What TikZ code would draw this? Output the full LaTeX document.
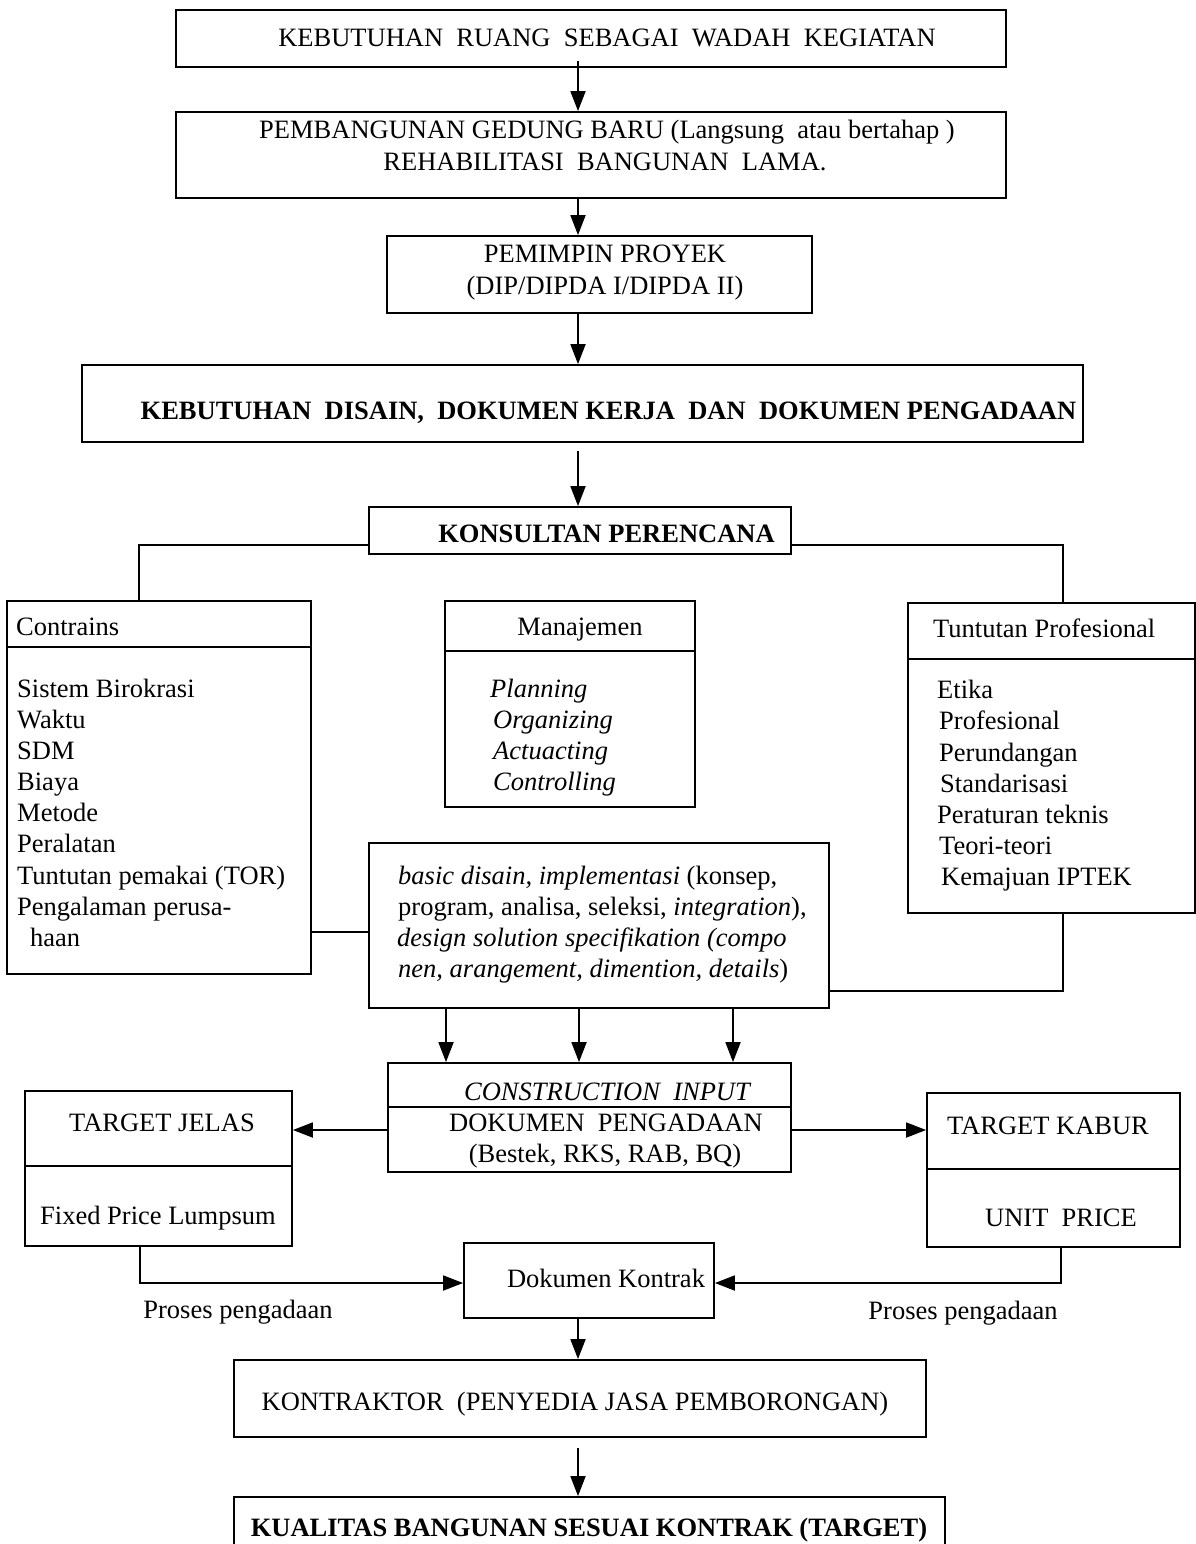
\documentclass[tikz,border=0pt]{standalone}
\usepackage{fontspec}
\setmainfont{Liberation Serif}
\usetikzlibrary{arrows.meta}
\begin{document}
\begin{tikzpicture}[x=1pt,y=-1pt,
  box/.style={draw, line width=1.8pt, rectangle, inner sep=0pt},
  lbl/.style={inner sep=0pt, anchor=base, font=\fontsize{26.5}{31}\selectfont},
  lblw/.style={lbl, anchor=base west},
  link/.style={line width=1.8pt},
  arr/.style={link, -{Triangle[length=20pt,width=15pt]}},
  rule/.style={line width=1.5pt}
  ]
\useasboundingbox (0,0) rectangle (1196,1544);
\fill[white] (0,0) rectangle (1196,1544);

% guide coordinates for the connectors
\coordinate (ax) at (578,0);
\coordinate (lx) at (139,0);
\coordinate (rx) at (1063,0);
\coordinate (hy) at (0,545);
\coordinate (cy) at (0,932);
\coordinate (ty) at (0,991);
\coordinate (xa) at (446,0);
\coordinate (xb) at (579,0);
\coordinate (xc) at (733,0);
\coordinate (my) at (0,1130);
\coordinate (py) at (0,1283);
\coordinate (lx2) at (140,0);
\coordinate (rx2) at (1061,0);

% main chain of boxes
\node[box, minimum width=830pt, minimum height=57pt] (b1) at (591,38.5) {};
\node[lbl] (t1) at (607,47) {KEBUTUHAN \ RUANG \ SEBAGAI \ WADAH \ KEGIATAN};

\node[box, minimum width=830pt, minimum height=86pt] (b2) at (591,155) {};
\node[lbl] (t2a) at (607,139) {PEMBANGUNAN GEDUNG BARU (Langsung \ atau bertahap )};
\node[lbl] (t2b) at (605,170) {REHABILITASI \ BANGUNAN \ LAMA.};

\node[box, minimum width=425pt, minimum height=77pt] (b3) at (599.5,274.5) {};
\node[lbl] (t3a) at (605,262) {PEMIMPIN PROYEK};
\node[lbl] (t3b) at (605,294) {(DIP/DIPDA I/DIPDA II)};

\node[box, minimum width=1001pt, minimum height=77pt] (b4) at (582.5,403.5) {};
\node[lbl, font=\fontsize{26.5}{31}\selectfont\bfseries] (t4) at (608.5,419) {KEBUTUHAN \ DISAIN, \ DOKUMEN KERJA \ DAN \ DOKUMEN PENGADAAN};

\node[box, minimum width=422pt, minimum height=47pt] (b5) at (580,530.5) {};
\node[lbl, font=\fontsize{26.5}{31}\selectfont\bfseries] (t5) at (606.5,542) {KONSULTAN PERENCANA};

% constraints box
\node[box, minimum width=304pt, minimum height=373pt] (con) at (159,787.5) {};
\draw[rule] ([yshift=-47pt]con.north west) -- ([yshift=-47pt]con.north east);
\node[lblw] (conh) at (16,635) {Contrains};
\node[lblw] (c1) at (17,697) {Sistem Birokrasi};
\node[lblw] (c2) at (17,728) {Waktu};
\node[lblw] (c3) at (17,759) {SDM};
\node[lblw] (c4) at (17,790) {Biaya};
\node[lblw] (c5) at (17,821) {Metode};
\node[lblw] (c6) at (17,852) {Peralatan};
\node[lblw] (c7) at (17,884) {Tuntutan pemakai (TOR)};
\node[lblw] (c8) at (17,915) {Pengalaman perusa-};
\node[lblw] (c9) at (30,946) {haan};

% management box
\node[box, minimum width=250pt, minimum height=206pt] (man) at (570,704) {};
\draw[rule] ([yshift=-51pt]man.north west) -- ([yshift=-51pt]man.north east);
\node[lbl] (manh) at (580,635) {Manajemen};
\node[lblw] (m1) at (490,697) {\itshape Planning};
\node[lblw] (m2) at (493,728) {\itshape Organizing};
\node[lblw] (m3) at (493,759) {\itshape Actuacting};
\node[lblw] (m4) at (493,790) {\itshape Controlling};

% professional demands box
\node[box, minimum width=287pt, minimum height=310pt] (tun) at (1051.5,758) {};
\draw[rule] ([yshift=-57pt]tun.north west) -- ([yshift=-57pt]tun.north east);
\node[lblw] (tunh) at (933,637) {Tuntutan Profesional};
\node[lblw] (p1) at (937,698) {Etika};
\node[lblw] (p2) at (939,729) {Profesional};
\node[lblw] (p3) at (939,761) {Perundangan};
\node[lblw] (p4) at (940,792) {Standarisasi};
\node[lblw] (p5) at (937,823) {Peraturan teknis};
\node[lblw] (p6) at (939,854) {Teori-teori};
\node[lblw] (p7) at (941,885) {Kemajuan IPTEK};

% design basis box
\node[box, minimum width=460pt, minimum height=165pt] (bas) at (599,925.5) {};
\node[lblw] (d1) at (398,884) {\textit{basic disain, implementasi} (konsep,};
\node[lblw] (d2) at (398,915) {program, analisa, seleksi, \textit{integration}),};
\node[lblw] (d3) at (397,946) {\textit{design solution specifikation (compo}};
\node[lblw] (d4) at (398,977) {\textit{nen, arangement, dimention, details})};

% construction input
\node[box, minimum width=403pt, minimum height=109pt] (ci) at (589.5,1117.5) {};
\draw[rule] ([yshift=-45pt]ci.north west) -- ([yshift=-45pt]ci.north east);
\node[lbl] (ci1) at (607,1100) {\itshape CONSTRUCTION \ INPUT};
\node[lbl] (ci2) at (606,1131) {DOKUMEN \ PENGADAAN};
\node[lbl] (ci3) at (605,1162) {(Bestek, RKS, RAB, BQ)};

% target boxes
\node[box, minimum width=267pt, minimum height=155pt] (tj) at (158.5,1168.5) {};
\draw[rule] ([yshift=-76pt]tj.north west) -- ([yshift=-76pt]tj.north east);
\node[lbl] (tj1) at (162,1131) {TARGET JELAS};
\node[lbl] (tj2) at (158,1224) {Fixed Price Lumpsum};

\node[box, minimum width=253pt, minimum height=154pt] (tk) at (1053.5,1170) {};
\draw[rule] ([yshift=-77pt]tk.north west) -- ([yshift=-77pt]tk.north east);
\node[lbl] (tk1) at (1048,1134) {TARGET KABUR};
\node[lbl] (tk2) at (1061,1226) {UNIT \ PRICE};

% contract and execution
\node[box, minimum width=250pt, minimum height=75pt] (dk) at (589,1280.5) {};
\node[lbl] (dkt) at (606,1287) {Dokumen Kontrak};
\node[lbl] (pl) at (238,1318) {Proses pengadaan};
\node[lbl] (pr) at (963,1319) {Proses pengadaan};

\node[box, minimum width=692pt, minimum height=77pt] (ko) at (580,1398.5) {};
\node[lbl] (kot) at (575,1410) {KONTRAKTOR \ (PENYEDIA JASA PEMBORONGAN)};

\node[box, minimum width=711pt, minimum height=63pt] (ku) at (589.5,1528.5) {};
\node[lbl, font=\fontsize{26.5}{31}\selectfont\bfseries] (kut) at (589,1536) {KUALITAS BANGUNAN SESUAI KONTRAK (TARGET)};

% connectors
\draw[arr, shorten <=-7pt] (b1.south -| ax) -- (b2.north -| ax);
\draw[arr] (b2.south -| ax) -- (b3.north -| ax);
\draw[arr] (b3.south -| ax) -- (b4.north -| ax);
\draw[arr, shorten <=8pt] (b4.south -| ax) -- (b5.north -| ax);

\draw[link] (b5.west |- hy) -| (con.north -| lx);
\draw[link] (b5.east |- hy) -| (tun.north -| rx);
\draw[link] (con.east |- cy) -- (bas.west |- cy);
\draw[link] (tun.south -| rx) |- (bas.east |- ty);

\draw[arr] (bas.south -| xa) -- (ci.north -| xa);
\draw[arr] (bas.south -| xb) -- (ci.north -| xb);
\draw[arr] (bas.south -| xc) -- (ci.north -| xc);

\draw[arr] (ci.west |- my) -- (tj.east |- my);
\draw[arr] (ci.east |- my) -- (tk.west |- my);

\draw[arr] (tj.south -| lx2) |- (dk.west |- py);
\draw[arr] (tk.south -| rx2) |- (dk.east |- py);

\draw[arr] (dk.south -| ax) -- (ko.north -| ax);
\draw[arr, shorten <=10pt] (ko.south -| ax) -- (ku.north -| ax);
\end{tikzpicture}
\end{document}
